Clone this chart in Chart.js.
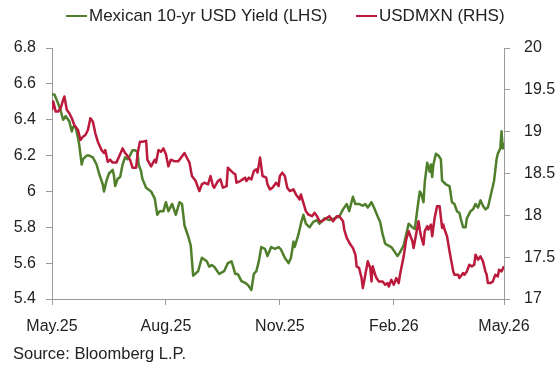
<!DOCTYPE html>
<html>
<head>
<meta charset="utf-8">
<script src="https://cdn.jsdelivr.net/npm/chart.js@4"></script>
<style>
    html, body { margin: 0; padding: 0; background: #ffffff; }
    canvas { display: block; }
</style>
</head>
<body>
<canvas id="chart" width="556" height="368"></canvas>
<script>
// Days since 1 May 2025 for the x axis ticks
const tickDays = [0, 92, 184, 276, 365];
const tickLabels = ['May.25', 'Aug.25', 'Nov.25', 'Feb.26', 'May.26'];

// Mexican 10-yr USD yield (LHS, %)
const yieldDays = [
    0, 2, 5, 7, 9, 11, 14, 16, 17, 19,
    21, 22, 24, 25, 28, 30, 33, 36, 38, 41,
    42, 44, 46, 49, 50, 51, 53, 55, 57, 59,
    61, 63, 65, 67, 69, 70, 72, 73, 76, 80,
    83, 85, 87, 90, 92, 94, 97, 100, 103, 105,
    107, 110, 112, 114, 118, 121, 125, 127, 129, 131,
    135, 139, 142, 145, 148, 150, 153, 156, 158, 161,
    163, 165, 167, 169, 172, 174, 177, 180, 183, 185,
    188, 191, 193, 195, 196, 199, 201, 203, 205, 208,
    211, 214, 216, 220, 224, 228, 232, 235, 238, 240,
    243, 245, 248, 251, 253, 255, 258, 260, 263, 265,
    267, 269, 271, 274, 277, 279, 281, 284, 286, 288,
    291, 293, 295, 297, 298, 300, 301, 303, 305, 306,
    307, 308, 310, 312, 314, 315, 318, 321, 323, 325,
    327, 329, 330, 332, 334, 335, 338, 340, 342, 344,
    346, 348, 350, 352, 353, 355, 357, 359, 360, 362,
    363, 364, 365
];
const yieldValues = [
    6.54, 6.54, 6.49, 6.45, 6.40, 6.42, 6.39, 6.335, 6.36, 6.36,
    6.30, 6.26, 6.15, 6.18, 6.20, 6.20, 6.19, 6.15, 6.10, 6.04,
    6.00, 6.06, 6.10, 6.12, 6.09, 6.03, 6.07, 6.08, 6.15, 6.19,
    6.18, 6.20, 6.23, 6.23, 6.22, 6.15, 6.11, 6.07, 6.02, 6.00,
    5.96, 5.87, 5.89, 5.89, 5.94, 5.89, 5.93, 5.87, 5.94, 5.93,
    5.81, 5.75, 5.70, 5.53, 5.555, 5.63, 5.61, 5.58, 5.59, 5.58,
    5.54, 5.555, 5.60, 5.61, 5.54, 5.54, 5.50, 5.49, 5.48, 5.45,
    5.54, 5.555, 5.61, 5.69, 5.68, 5.64, 5.69, 5.68, 5.69, 5.675,
    5.63, 5.60, 5.63, 5.72, 5.69, 5.76, 5.82, 5.87, 5.82, 5.80,
    5.83, 5.84, 5.82, 5.85, 5.84, 5.85, 5.86, 5.90, 5.93, 5.89,
    5.97, 5.93, 5.93, 5.92, 5.93, 5.91, 5.94, 5.91, 5.86, 5.83,
    5.76, 5.71, 5.70, 5.69, 5.66, 5.64, 5.66, 5.70, 5.76, 5.82,
    5.80, 5.79, 5.90, 6.00, 5.99, 5.94, 6.05, 6.16, 6.11, 6.15,
    6.08, 6.15, 6.21, 6.20, 6.18, 6.06, 6.04, 6.03, 5.94, 5.93,
    5.89, 5.88, 5.85, 5.80, 5.80, 5.85, 5.89, 5.90, 5.93, 5.91,
    5.95, 5.92, 5.90, 5.91, 5.94, 6.00, 6.06, 6.18, 6.21, 6.24,
    6.335, 6.24, 6.27
];

// USDMXN (RHS)
const fxDays = [
    0, 1, 3, 5, 7, 9, 10, 12, 14, 16,
    18, 21, 23, 25, 27, 29, 31, 33, 35, 37,
    40, 42, 43, 45, 47, 49, 52, 55, 57, 59,
    60, 63, 65, 68, 69, 71, 73, 76, 77, 80,
    83, 84, 86, 88, 90, 92, 94, 96, 99, 102,
    104, 107, 109, 111, 113, 116, 119, 121, 123, 126,
    128, 130, 131, 134, 136, 138, 141, 142, 146, 148,
    149, 152, 154, 156, 157, 159, 161, 163, 165, 166,
    168, 169, 170, 173, 174, 176, 178, 181, 183, 184,
    186, 188, 190, 192, 195, 197, 200, 201, 203, 205,
    207, 210, 212, 214, 216, 218, 220, 222, 224, 227,
    228, 230, 232, 235, 236, 238, 241, 243, 245, 246,
    248, 250, 251, 253, 255, 257, 258, 259, 261, 262,
    264, 267, 269, 271, 272, 274, 276, 278, 280, 281,
    284, 286, 288, 290, 291, 292, 294, 296, 297, 298,
    300, 301, 303, 304, 306, 307, 309, 311, 313, 315,
    316, 317, 319, 321, 324, 325, 328, 329, 332, 333,
    335, 337, 339, 341, 342, 344, 346, 348, 350, 351,
    352, 354, 356, 358, 360, 361, 363, 365
];
const fxValues = [
    19.26, 19.36, 19.24, 19.24, 19.28, 19.38, 19.42, 19.26, 19.22, 19.16,
    19.08, 19.02, 18.90, 18.94, 18.96, 19.02, 19.16, 19.12, 18.98, 18.88,
    18.78, 18.745, 18.78, 18.64, 18.665, 18.63, 18.63, 18.73, 18.80, 18.745,
    18.73, 18.665, 18.57, 18.57, 18.73, 18.88, 18.88, 18.89, 18.665, 18.585,
    18.665, 18.63, 18.78, 18.76, 18.80, 18.73, 18.585, 18.665, 18.645, 18.645,
    18.685, 18.745, 18.685, 18.63, 18.47, 18.41, 18.29, 18.37, 18.39, 18.37,
    18.47, 18.35, 18.33, 18.41, 18.43, 18.33, 18.35, 18.57, 18.51, 18.49,
    18.39, 18.41, 18.43, 18.45, 18.41, 18.45, 18.43, 18.53, 18.55, 18.51,
    18.69, 18.585, 18.47, 18.45, 18.37, 18.31, 18.33, 18.39, 18.35, 18.47,
    18.51, 18.47, 18.33, 18.29, 18.31, 18.25, 18.19, 18.25, 18.15, 18.05,
    18.01, 17.99, 18.03, 17.99, 17.93, 17.93, 17.95, 17.97, 17.99, 17.93,
    17.95, 17.99, 17.99, 17.93, 17.83, 17.73, 17.65, 17.61, 17.53, 17.39,
    17.37, 17.25, 17.13, 17.29, 17.45, 17.37, 17.21, 17.39, 17.29, 17.25,
    17.21, 17.21, 17.17, 17.19, 17.15, 17.23, 17.17, 17.25, 17.19, 17.29,
    17.51, 17.71, 17.81, 17.73, 17.69, 17.61, 17.77, 17.93, 17.83, 17.75,
    17.65, 17.81, 17.87, 17.83, 17.89, 17.75, 17.97, 18.11, 18.11, 17.85,
    17.89, 17.83, 17.75, 17.57, 17.33, 17.29, 17.29, 17.25, 17.31, 17.29,
    17.33, 17.41, 17.39, 17.41, 17.53, 17.47, 17.51, 17.45, 17.33, 17.29,
    17.19, 17.19, 17.21, 17.29, 17.27, 17.35, 17.33, 17.39
];

const GREEN = '#4f7f2b';
const RED = '#bb1a3c';
const TEXT = '#222222';
const AXIS = '#9a9a9a';
const FONT = "'Liberation Sans', Arial, sans-serif";

const legendItems = [
    { label: 'Mexican 10-yr USD Yield (LHS)', color: GREEN, x: 66 },
    { label: 'USDMXN (RHS)', color: RED, x: 356 }
];

// Legend at the top and source note at the bottom, drawn by hand
const notesPlugin = {
    id: 'notes',
    afterDraw(chart) {
        const ctx = chart.ctx;
        ctx.save();
        ctx.font = '17px ' + FONT;
        ctx.textBaseline = 'middle';
        ctx.fillStyle = TEXT;
        legendItems.forEach(item => {
            ctx.strokeStyle = item.color;
            ctx.lineWidth = 2;
            ctx.beginPath();
            ctx.moveTo(item.x, 16);
            ctx.lineTo(item.x + 21, 16);
            ctx.stroke();
            ctx.fillText(item.label, item.x + 23, 16);
        });
        ctx.font = '16.5px ' + FONT;
        ctx.fillText('Source: Bloomberg L.P.', 13, 354);
        ctx.restore();
    }
};

const toPoints = (days, values) => days.map((d, i) => ({ x: d, y: values[i] }));
const trimLabel = v => String(+Number(v).toFixed(2));

const ctx = document.getElementById('chart').getContext('2d');

new Chart(ctx, {
    type: 'line',
    data: {
        datasets: [
            {
                label: 'Mexican 10-yr USD Yield (LHS)',
                data: toPoints(yieldDays, yieldValues),
                borderColor: GREEN,
                yAxisID: 'y',
                order: 1
            },
            {
                label: 'USDMXN (RHS)',
                data: toPoints(fxDays, fxValues),
                borderColor: RED,
                yAxisID: 'y1',
                order: 0
            }
        ]
    },
    options: {
        responsive: false,
        animation: false,
        devicePixelRatio: 1,
        elements: {
            line: { borderWidth: 2.5, tension: 0, borderJoinStyle: 'round' },
            point: { radius: 0 }
        },
        layout: { padding: { top: 48, left: 0, right: 0, bottom: 0 } },
        plugins: {
            legend: { display: false },
            tooltip: { enabled: false }
        },
        scales: {
            x: {
                type: 'linear',
                min: 0,
                max: 365,
                afterBuildTicks: scale => {
                    scale.ticks = tickDays.map(v => ({ value: v }));
                },
                afterFit: scale => { scale.height = 69; },
                border: { display: true, color: AXIS, width: 1 },
                grid: { drawOnChartArea: false, drawTicks: true, tickLength: 6, color: AXIS },
                ticks: {
                    color: TEXT,
                    font: { family: FONT, size: 16 },
                    padding: 12,
                    maxRotation: 0,
                    autoSkip: false,
                    callback: (value, index) => tickLabels[index]
                }
            },
            y: {
                position: 'left',
                min: 5.4,
                max: 6.8,
                afterFit: scale => { scale.width = 52; },
                border: { display: true, color: AXIS, width: 1 },
                grid: { drawOnChartArea: false, drawTicks: true, tickLength: 6, color: AXIS },
                ticks: {
                    stepSize: 0.2,
                    color: TEXT,
                    font: { family: FONT, size: 16 },
                    padding: 10,
                    callback: trimLabel
                }
            },
            y1: {
                position: 'right',
                min: 17,
                max: 20,
                afterFit: scale => { scale.width = 52; },
                border: { display: true, color: AXIS, width: 1 },
                grid: { drawOnChartArea: false, drawTicks: true, tickLength: 6, color: AXIS },
                ticks: {
                    stepSize: 0.5,
                    color: TEXT,
                    font: { family: FONT, size: 16 },
                    padding: 14,
                    callback: trimLabel
                }
            }
        }
    },
    plugins: [notesPlugin]
});
</script>
</body>
</html>
